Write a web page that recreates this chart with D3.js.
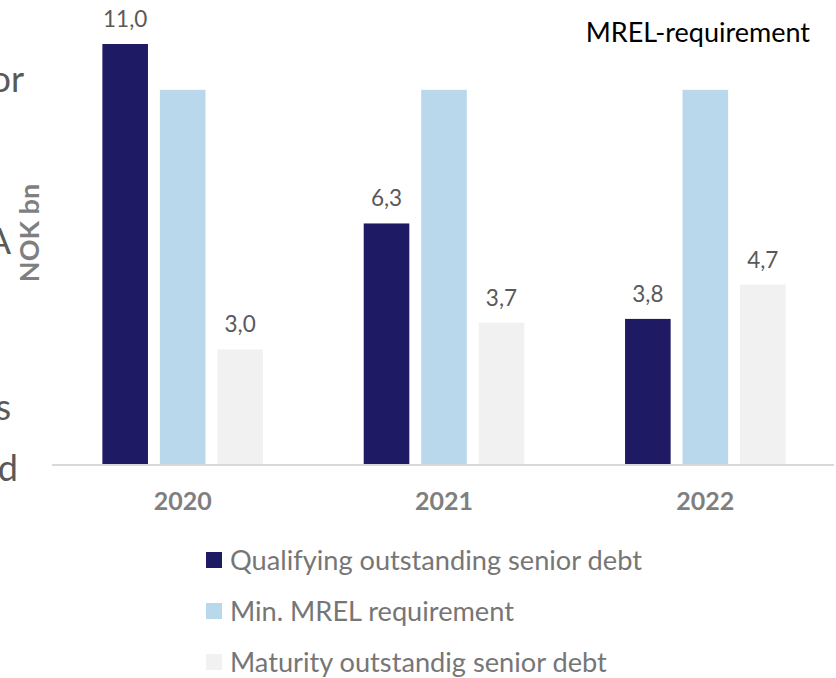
<!DOCTYPE html>
<html>
<head>
<meta charset="utf-8">
<script src="https://cdn.jsdelivr.net/npm/d3@7"></script>
<style>
  body { margin: 0; background: #fff; }
  svg { display: block; font-family: Lato, "Open Sans", sans-serif; }
</style>
</head>
<body>
<svg width="836" height="678"></svg>
<script>
  // chart data
  const years = ["2020", "2021", "2022"];
  const seriesNames = ["Qualifying outstanding senior debt", "Min. MREL requirement", "Maturity outstandig senior debt"];
  const qualifying = [11.0, 6.3, 3.8];
  const minMrel = [9.8, 9.8, 9.8];
  const maturity = [3.0, 3.7, 4.7];
  const showLabel = [true, false, true];
  const colors = ["#1f1a64", "#b9d8eb", "#f1f1f1"];

  const svg = d3.select("svg");

  const rows = years.map((y, i) => ({
    year: y,
    values: [qualifying[i], minMrel[i], maturity[i]]
  }));

  const x0 = d3.scaleBand()
    .domain(years)
    .range([52, 836])
    .paddingInner(0.34)
    .paddingOuter(0.17);

  const x1 = d3.scaleBand()
    .domain(d3.range(seriesNames.length))
    .range([0, x0.bandwidth()])
    .paddingInner(0.207)
    .paddingOuter(0.1035);

  const y = d3.scaleLinear().domain([0, 11]).range([464, 44]);
  const fmt = v => d3.format(".1f")(v).replace(".", ",");

  // cut-off text from the slide on the left
  const leftBits = [["or", 24, 92], ["A", 11, 254], ["s", 11, 420], ["d", 18, 481]];
  svg.selectAll("text.cut")
    .data(leftBits)
    .enter().append("text")
      .attr("class", "cut")
      .attr("x", d => d[1])
      .attr("y", d => d[2])
      .attr("text-anchor", "end")
      .attr("font-size", 36)
      .attr("fill", "#595959")
      .text(d => d[0]);

  const group = svg.selectAll("g.year")
    .data(rows)
    .enter().append("g")
      .attr("class", "year")
      .attr("transform", d => `translate(${x0(d.year)},0)`);

  group.selectAll("rect")
    .data(d => d.values.map((v, i) => ({ v, i })))
    .enter().append("rect")
      .attr("x", d => x1(d.i))
      .attr("y", d => y(d.v))
      .attr("width", x1.bandwidth())
      .attr("height", d => y(0) - y(d.v))
      .attr("fill", d => colors[d.i]);

  group.selectAll("text.val")
    .data(d => d.values.map((v, i) => ({ v, i })).filter(d => showLabel[d.i]))
    .enter().append("text")
      .attr("class", "val")
      .attr("x", d => x1(d.i) + x1.bandwidth() / 2)
      .attr("y", d => y(d.v) - 17)
      .attr("text-anchor", "middle")
      .attr("font-size", 22.5)
      .attr("fill", "#595959")
      .text(d => fmt(d.v));

  // baseline
  svg.append("line")
    .attr("x1", 52).attr("x2", 834)
    .attr("y1", y(0) + 1).attr("y2", y(0) + 1)
    .attr("stroke", "#d9d9d9")
    .attr("stroke-width", 2);

  const xAxis = svg.append("g")
    .attr("transform", `translate(0,${y(0)})`)
    .call(d3.axisBottom(x0).tickSize(0).tickPadding(28));
  xAxis.select(".domain").remove();
  xAxis.selectAll("text")
    .attr("font-family", "Lato, sans-serif")
    .attr("font-size", 25)
    .attr("font-weight", "bold")
    .attr("fill", "#7f7f7f");

  svg.append("text")
    .attr("transform", "translate(39,233) rotate(-90)")
    .attr("text-anchor", "middle")
    .attr("font-size", 27)
    .attr("font-weight", "bold")
    .attr("fill", "#7f7f7f")
    .text("NOK bn");

  svg.append("text")
    .attr("x", 810)
    .attr("y", 42)
    .attr("text-anchor", "end")
    .attr("font-size", 27)
    .attr("fill", "#000")
    .text("MREL-requirement");

  const legend = svg.selectAll("g.legend")
    .data(seriesNames)
    .enter().append("g")
      .attr("class", "legend")
      .attr("transform", (d, i) => `translate(206,${560 + i * 51})`);

  legend.append("rect")
    .attr("x", 0).attr("y", -8)
    .attr("width", 16).attr("height", 16)
    .attr("fill", (d, i) => colors[i]);

  legend.append("text")
    .attr("x", 24)
    .attr("y", 10)
    .attr("font-size", 27.2)
    .attr("fill", "#767676")
    .text(d => d);
</script>
</body>
</html>
